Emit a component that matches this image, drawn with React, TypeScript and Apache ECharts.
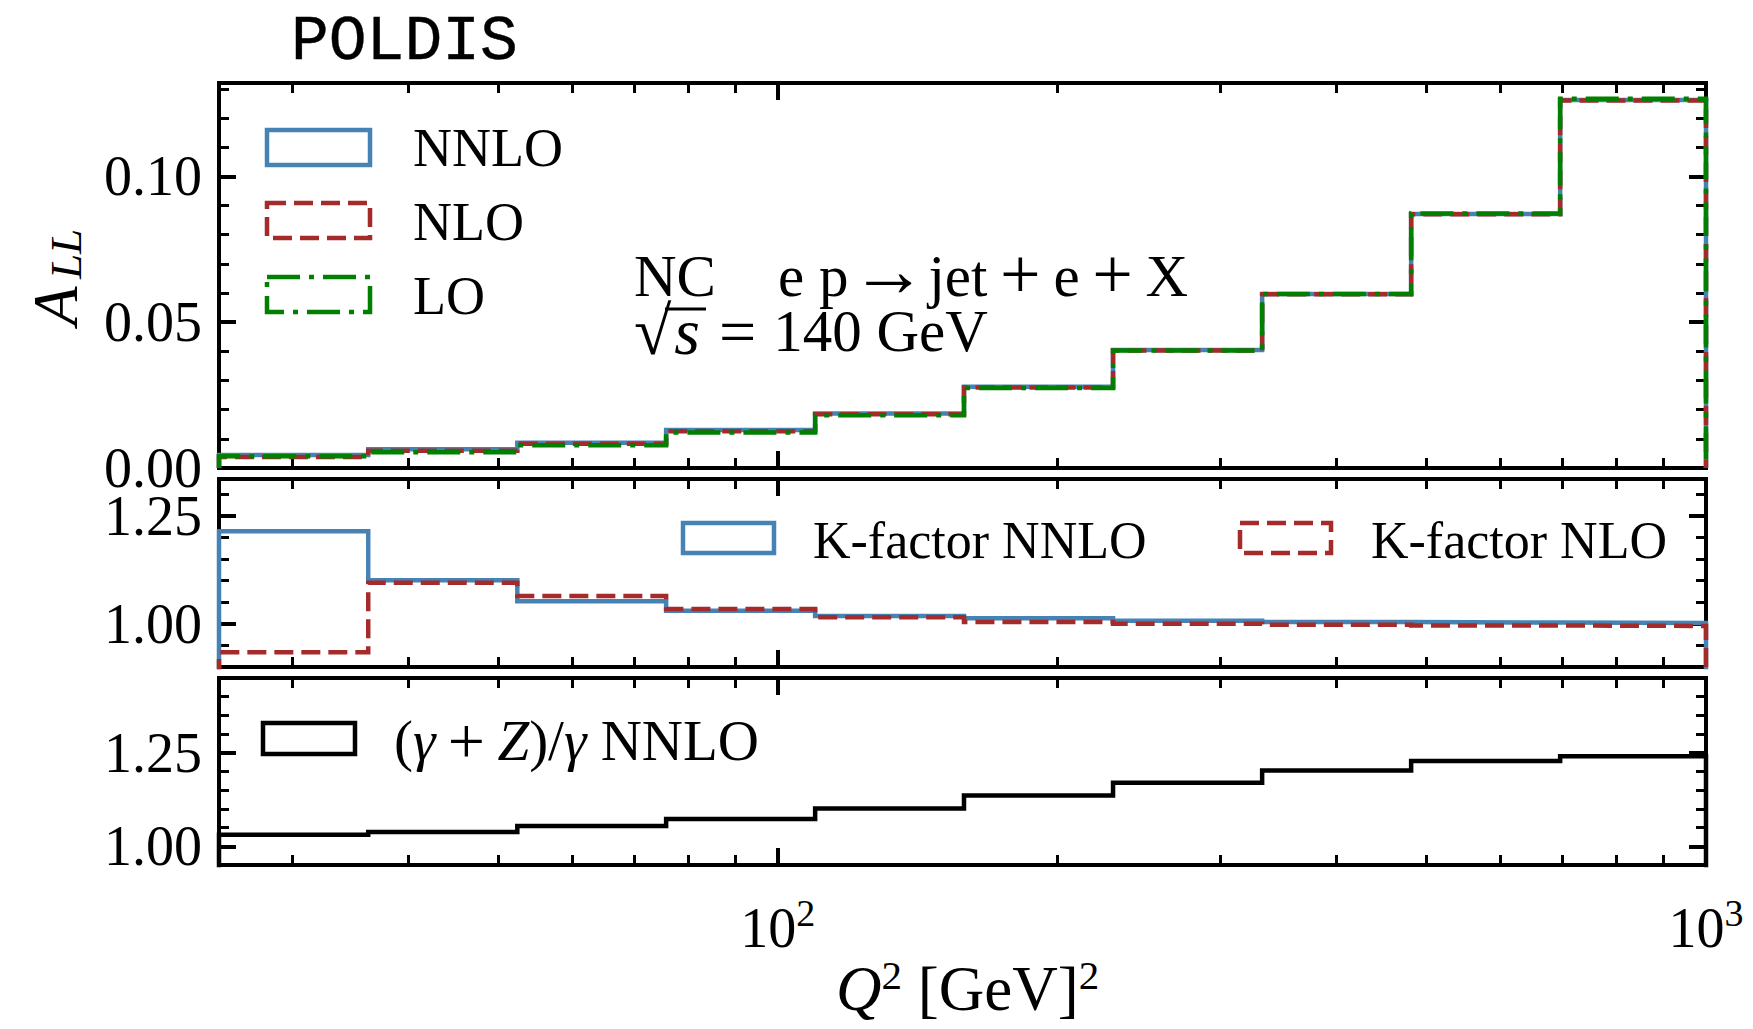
import React, { useEffect, useRef } from "react";
import * as echarts from "echarts";

// ---------- data ----------
const Q2_EDGES = [25, 36.2, 52.4, 75.8, 109.7, 158.7, 229.7, 332.5, 481.2, 696.4, 1000];

const ALL_NNLO = [0.0045, 0.0064, 0.0087, 0.0130, 0.0187, 0.0279, 0.0405, 0.0597, 0.0871, 0.1262];
const ALL_NLO = [0.0038, 0.0059, 0.0083, 0.0126, 0.0184, 0.0276, 0.0403, 0.0596, 0.0870, 0.1260];
const ALL_LO = [0.0040, 0.0054, 0.0078, 0.0122, 0.0181, 0.0274, 0.0403, 0.0597, 0.0873, 0.1266];

const K_NNLO = [1.214, 1.101, 1.052, 1.030, 1.018, 1.013, 1.007, 1.004, 1.003, 1.002];
const K_NLO = [0.934, 1.095, 1.064, 1.034, 1.015, 1.004, 1.000, 0.998, 0.996, 0.995];

const Z_RATIO = [1.031, 1.038, 1.054, 1.073, 1.101, 1.136, 1.170, 1.203, 1.228, 1.241];

// ---------- ticks ----------
const X_MAJOR = [100, 1000];
const X_MINOR = [30, 40, 50, 60, 70, 80, 90, 200, 300, 400, 500, 600, 700, 800, 900];

const TOP_Y_MAJOR = [0, 0.05, 0.1];
const TOP_Y_MINOR = [0.01, 0.02, 0.03, 0.04, 0.06, 0.07, 0.08, 0.09, 0.11, 0.12, 0.13];
const MID_Y_MAJOR = [1.0, 1.25];
const MID_Y_MINOR = [0.95, 1.05, 1.1, 1.15, 1.2, 1.3];
const BOT_Y_MAJOR = [1.0, 1.25];
const BOT_Y_MINOR = [1.05, 1.1, 1.15, 1.2, 1.3, 1.35, 1.4];

const X_RANGE = [25, 1000];
const TOP_RANGE = [0, 0.132];
const MID_RANGE = [0.9, 1.335];
const BOT_RANGE = [0.95, 1.45];

// ---------- style ----------
const SERIF = "'Liberation Serif', 'DejaVu Serif', serif";
const MONO = "'Liberation Mono', 'DejaVu Sans Mono', monospace";
const BLUE = "#4682b4";
const RED = "#a52a2a";
const GREEN = "#008000";
const TICK_FS = 56;
const LEG_FS = 54;
const ANN_FS = 59;
const LW = 4.5;
const DASH = [19, 8];
const DASHDOT = [33, 9, 5, 9];

const GRIDS = [
  { left: 219, top: 83, width: 1487, height: 385 },
  { left: 219, top: 479, width: 1487, height: 188 },
  { left: 219, top: 678, width: 1487, height: 187 },
];

function stepPoints(values: number[]) {
  const pts: number[][] = [[Q2_EDGES[0], 0]];
  values.forEach((v, i) => pts.push([Q2_EDGES[i], v]));
  pts.push([Q2_EDGES[Q2_EDGES.length - 1], 0]);
  return pts;
}

function xAxes(gridIndex: number, labels: boolean) {
  const base = (position: string, major: boolean, showLabel: boolean) => ({
    type: "log",
    logBase: 10,
    gridIndex,
    position,
    min: X_RANGE[0],
    max: X_RANGE[1],
    axisLine: { show: false, onZero: false },
    splitLine: { show: false },
    minorTick: { show: false },
    axisTick: {
      show: true,
      inside: true,
      customValues: major ? X_MAJOR : X_MINOR,
      length: major ? 17 : 10,
      lineStyle: { color: "#000", width: major ? 4 : 3 },
    },
    axisLabel: showLabel
      ? {
          show: true,
          customValues: X_MAJOR,
          margin: 29,
          formatter: (v: number) => `{b|10}{p|${Math.round(Math.log10(v))}}`,
          rich: {
            b: { fontFamily: SERIF, fontSize: TICK_FS, color: "#000", lineHeight: 62, verticalAlign: "bottom" },
            p: { fontFamily: SERIF, fontSize: 38, color: "#000", lineHeight: 8, verticalAlign: "top" },
          },
        }
      : { show: false },
  });
  return [
    base("bottom", true, labels),
    base("bottom", false, false),
    base("top", true, false),
    base("top", false, false),
  ];
}

function yAxes(gridIndex: number, range: number[], major: number[], minor: number[]) {
  const base = (position: string, isMajor: boolean, showLabel: boolean) => ({
    type: "value",
    gridIndex,
    position,
    min: range[0],
    max: range[1],
    axisLine: { show: false, onZero: false },
    splitLine: { show: false },
    minorTick: { show: false },
    axisTick: {
      show: true,
      inside: true,
      customValues: isMajor ? major : minor,
      length: isMajor ? 17 : 10,
      lineStyle: { color: "#000", width: isMajor ? 4 : 3 },
    },
    axisLabel: showLabel
      ? {
          show: true,
          customValues: major,
          margin: 17,
          color: "#000",
          fontFamily: SERIF,
          fontSize: TICK_FS,
          lineHeight: 40,
          formatter: (v: number) => v.toFixed(2),
        }
      : { show: false },
  });
  return [
    base("left", true, true),
    base("left", false, false),
    base("right", true, false),
    base("right", false, false),
  ];
}

function lineSeries(name: string, g: number, values: number[], color: string, type: any, z: number) {
  return {
    name,
    type: "line",
    xAxisIndex: g * 4,
    yAxisIndex: g * 4,
    step: "end",
    data: stepPoints(values),
    showSymbol: false,
    symbol: "none",
    clip: true,
    z,
    lineStyle: { color, width: LW, type, cap: "butt", join: "miter" },
  };
}

function legendBox(x: number, y: number, w: number, h: number, color: string, dash: any) {
  return {
    type: "rect",
    shape: { x, y, width: w, height: h },
    style: { fill: "none", stroke: color, lineWidth: LW, lineDash: dash },
    z: 100,
  };
}

function richText(text: string, x: number, y: number, rich: any, extra: any = {}) {
  return {
    type: "text",
    x,
    y,
    z: 100,
    ...extra,
    style: {
      text,
      fill: "#000",
      align: "left",
      verticalAlign: "middle",
      textAlign: "left",
      textVerticalAlign: "middle",
      rich,
    },
  };
}

const tok = (fontSize: number, more: any = {}) => ({
  fontFamily: SERIF,
  fontSize,
  color: "#000",
  fill: "#000",
  ...more,
});

export default function App() {
  const ref = useRef<HTMLDivElement>(null);

  useEffect(() => {
    document.body.style.margin = "0";
    if (!ref.current) return;
    const chart = echarts.init(ref.current, null, { renderer: "svg" });

    const graphic: any[] = [
      // title
      {
        type: "text",
        x: 291,
        y: 42,
        style: {
          text: "POLDIS",
          fontFamily: MONO,
          fontSize: 63,
          fill: "#000",
          stroke: "#000",
          lineWidth: 0.4,
          align: "left",
          verticalAlign: "middle",
          textAlign: "left",
          textVerticalAlign: "middle",
        },
      },
      // y title A_LL (rotated)
      {
        type: "text",
        x: 55,
        y: 306,
        rotation: Math.PI / 2,
        style: {
          text: "A",
          fontFamily: SERIF,
          fontStyle: "italic",
          fontSize: 64,
          fill: "#000",
          align: "center",
          verticalAlign: "middle",
          textAlign: "center",
          textVerticalAlign: "middle",
        },
      },
      {
        type: "text",
        x: 66,
        y: 254,
        rotation: Math.PI / 2,
        style: {
          text: "LL",
          fontFamily: SERIF,
          fontStyle: "italic",
          fontSize: 45,
          fill: "#000",
          align: "center",
          verticalAlign: "middle",
          textAlign: "center",
          textVerticalAlign: "middle",
        },
      },
      // top legend
      legendBox(267, 130, 103, 35, BLUE, null),
      legendBox(267, 203, 103, 35, RED, DASH),
      legendBox(267, 277, 103, 35, GREEN, DASHDOT),
      richText("{r|NNLO}", 413, 148, { r: tok(LEG_FS) }),
      richText("{r|NLO}", 413, 222, { r: tok(LEG_FS) }),
      richText("{r|LO}", 413, 296, { r: tok(LEG_FS) }),
      // process annotation
      richText("{r|NC}", 634, 276, { r: tok(ANN_FS, { lineHeight: 50 }) }),
      richText("{r|e p}{ar|\u2192}{r|jet}{op|+}{r|e}{op|+}{r|X}", 778, 276, {
        r: tok(ANN_FS, { lineHeight: 50 }),
        ar: tok(76, { lineHeight: 50, width: 80, align: "center", padding: [0, 0, 12, 0] }),
        op: tok(72, { lineHeight: 50, width: 66, align: "center", padding: [0, 0, 4, 0] }),
      }),
      richText("{sq|\u221A}{i|s}{eq|=}{r|140 GeV}", 634, 331, {
        sq: tok(68, { lineHeight: 50, padding: [0, 3, 0, 0] }),
        i: tok(66, { fontStyle: "italic", lineHeight: 50 }),
        eq: tok(66, { lineHeight: 50, padding: [0, 17, 0, 19] }),
        r: tok(ANN_FS, { lineHeight: 50 }),
      }),
      {
        type: "line",
        shape: { x1: 665, y1: 309, x2: 706, y2: 309 },
        style: { stroke: "#000", lineWidth: 3 },
        z: 100,
      },
      // middle legend
      legendBox(683, 523, 91, 30, BLUE, null),
      legendBox(1240, 523, 91, 30, RED, DASH),
      richText("{r|K-factor NNLO}", 813, 540, { r: tok(52) }),
      richText("{r|K-factor NLO}", 1371, 540, { r: tok(52) }),
      // bottom legend
      legendBox(263, 723, 92, 31, "#000", null),
      richText("{r|(}{i|\u03B3}{op|+}{i|Z}{r|)/}{i|\u03B3}{r| NNLO}", 394, 740, {
        r: tok(57),
        i: tok(57, { fontStyle: "italic" }),
        op: tok(66, { width: 62, align: "center" }),
      }),
      // x title Q^2 [GeV]^2
      richText("{i|Q}{p|2}{r| [GeV]}{p|2}", 836, 987, {
        r: tok(63, { lineHeight: 66, verticalAlign: "bottom" }),
        i: tok(63, { fontStyle: "italic", lineHeight: 66, verticalAlign: "bottom" }),
        p: tok(41, { lineHeight: 8, verticalAlign: "top" }),
      }),
    ];

    const option: any = {
      animation: false,
      backgroundColor: "#fff",
      grid: GRIDS.map((g) => ({
        ...g,
        show: true,
        borderColor: "#000",
        borderWidth: 4,
        backgroundColor: "transparent",
        containLabel: false,
        outerBoundsMode: "none",
      })),
      xAxis: [...xAxes(0, false), ...xAxes(1, false), ...xAxes(2, true)],
      yAxis: [
        ...yAxes(0, TOP_RANGE, TOP_Y_MAJOR, TOP_Y_MINOR),
        ...yAxes(1, MID_RANGE, MID_Y_MAJOR, MID_Y_MINOR),
        ...yAxes(2, BOT_RANGE, BOT_Y_MAJOR, BOT_Y_MINOR),
      ],
      series: [
        lineSeries("NNLO", 0, ALL_NNLO, BLUE, "solid", 2),
        lineSeries("NLO", 0, ALL_NLO, RED, DASH, 3),
        lineSeries("LO", 0, ALL_LO, GREEN, DASHDOT, 4),
        lineSeries("K-factor NNLO", 1, K_NNLO, BLUE, "solid", 2),
        lineSeries("K-factor NLO", 1, K_NLO, RED, DASH, 3),
        lineSeries("(γ+Z)/γ NNLO", 2, Z_RATIO, "#000", "solid", 2),
      ],
      graphic,
    };

    chart.setOption(option);
    return () => chart.dispose();
  }, []);

  return <div ref={ref} style={{ width: 1753, height: 1029 }} />;
}
